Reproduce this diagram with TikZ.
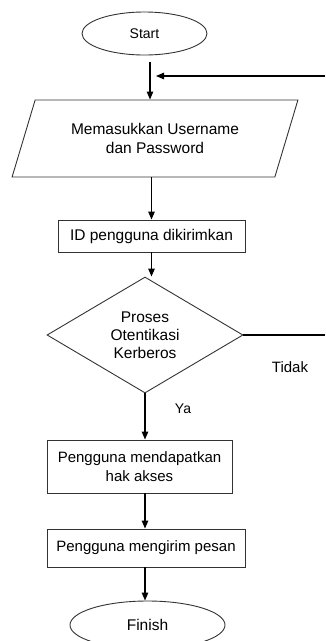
\documentclass[tikz,border=0pt]{standalone}
\usepackage{fontspec}
\setmainfont{Liberation Sans}
\usetikzlibrary{shapes.geometric,arrows.meta}
\tikzset{
  base/.style={draw=black!80, line width=0.9pt, inner sep=0pt, align=center, font=\fontsize{15.5}{19}\selectfont},
  term/.style={base, ellipse},
  procbox/.style={base, rectangle},
  iobox/.style={base, trapezium, trapezium left angle=62, trapezium right angle=118, trapezium stretches=true},
  decbox/.style={base, diamond},
  conn/.style={line width=1.1pt, -{Triangle[length=8pt,width=6.5pt]}},
  plain/.style={line width=1.1pt},
  lbl/.style={inner sep=0pt, font=\fontsize{15}{18}\selectfont}
}
\begin{document}
\begin{tikzpicture}[x=1pt,y=-1pt]
\useasboundingbox (0,0) rectangle (325,641);
\clip (0,0) rectangle (325,641);
\node[term, minimum width=125pt, minimum height=43pt, font=\fontsize{14}{17}\selectfont] (start) at (144.5,33.5) {Start};
\coordinate (a1) at (150,62);
\node[iobox, minimum width=286pt, minimum height=77pt] (par) at (155,138.5) {Memasukkan Username\\dan Password};
\coordinate (fbs) at (325,76);
\coordinate (fbe) at (156,76);
\node[procbox, minimum width=187pt, minimum height=32pt] (box1) at (151.5,236) {ID pengguna dikirimkan};
\node[decbox, minimum width=196pt, minimum height=116pt, font=\fontsize{15.5}{18}\selectfont] (dia) at (145,335) {Proses\\Otentikasi\\Kerberos};
\coordinate (tr) at (325,335);
\node[lbl] (tidak) at (290,367) {Tidak};
\node[lbl, font=\fontsize{14}{17}\selectfont] (ya) at (183,409) {Ya};
\node[procbox, minimum width=185pt, minimum height=53pt, font=\fontsize{15}{19}\selectfont] (box2) at (139.5,466.5) {Pengguna mendapatkan\\hak akses};
\node[procbox, minimum width=198pt, minimum height=38pt, font=\fontsize{15}{19}\selectfont] (box3) at (146,548) {Pengguna mengirim pesan};
\node[term, minimum width=155pt, minimum height=48pt] (finish) at (147.5,625) {Finish};

\draw[conn] (a1) -- (a1 |- par.north);
\draw[conn] (fbs) -- (fbe);
\draw[conn] (box1.north |- par.south) -- (box1.north);
\draw[conn] (box1.south) -- (box1.south |- dia.north);
\draw[plain] (dia.east) -- (tr);
\draw[conn] (dia.south) -- (dia.south |- box2.north);
\draw[conn] (box2.south -| dia.south) -- (box3.north -| dia.south);
\draw[conn] (box3.south -| dia.south) -- (finish.north -| dia.south);
\end{tikzpicture}
\end{document}
